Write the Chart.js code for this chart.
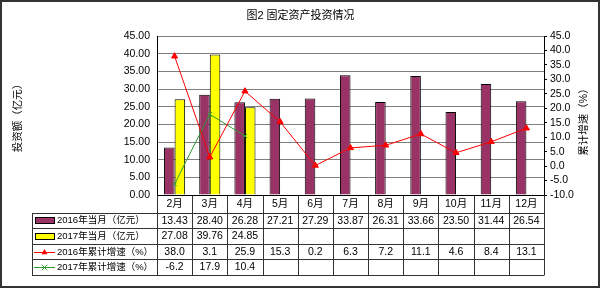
<!DOCTYPE html>
<html>
<head>
<meta charset="utf-8">
<script src="https://cdn.jsdelivr.net/npm/chart.js@4.4.1/dist/chart.umd.min.js"></script>
<style>
	body {margin: 0; background: #fff;}
</style>
</head>
<body>
<canvas id="chart" width="601" height="288"></canvas>
<script>
'use strict';

const months = ['2月', '3月', '4月', '5月', '6月', '7月', '8月', '9月', '10月', '11月', '12月'];
const month2016 = [13.43, 28.40, 26.28, 27.21, 27.29, 33.87, 26.31, 33.66, 23.50, 31.44, 26.54];
const month2017 = [27.08, 39.76, 24.85, null, null, null, null, null, null, null, null];
const growth2016 = [38.0, 3.1, 25.9, 15.3, 0.2, 6.3, 7.2, 11.1, 4.6, 8.4, 13.1];
const growth2017 = [-6.2, 17.9, 10.4, null, null, null, null, null, null, null, null];
const seriesNames = ['2016年当月（亿元）', '2017年当月（亿元）', '2016年累计增速（%）', '2017年累计增速（%）'];

const FONT = "'Liberation Sans', 'Noto Sans CJK SC', sans-serif";
const PURPLE = '#993366', YELLOW = '#ffff00', RED = '#ff0000', GREEN = '#2f9a2f';

/** Draws the small marker used by a line series.
 * @param {CanvasRenderingContext2D} ctx Context.
 * @param {string} style 'triangle' or 'crossRot'.
 * @param {number} x Centre x.
 * @param {number} y Centre y.
 * @param {string} colour Marker colour. */
function drawMarker(ctx, style, x, y, colour) {
	const r = 3.5;
	ctx.save();
	ctx.fillStyle = colour;
	ctx.strokeStyle = colour;
	ctx.lineWidth = 1;
	ctx.beginPath();
	if (style === 'triangle') {
		ctx.moveTo(x, y - r);
		ctx.lineTo(x + r * 0.87, y + r * 0.5);
		ctx.lineTo(x - r * 0.87, y + r * 0.5);
		ctx.closePath();
		ctx.fill();
	}
	else {
		const d = r * 0.8;
		ctx.moveTo(x - d, y - d);
		ctx.lineTo(x + d, y + d);
		ctx.moveTo(x + d, y - d);
		ctx.lineTo(x - d, y + d);
		ctx.stroke();
	}
	ctx.restore();
}

//data table under the plot, columns follow the category scale
const tablePlugin = {
	id: 'dataTable',
	afterDraw: chart => {
		const {ctx, chartArea} = chart;
		const xs = chart.scales.x;
		const n = months.length;
		const colW = (xs.right - xs.left) / n;
		const tableLeft = 32;
		const headBottom = chartArea.bottom + 17.5, rowH = 15.6;
		const rows = [
			{values: month2016, digits: 2, swatch: 'bar', colour: PURPLE},
			{values: month2017, digits: 2, swatch: 'bar', colour: YELLOW},
			{values: growth2016, digits: 1, swatch: 'triangle', colour: RED},
			{values: growth2017, digits: 1, swatch: 'crossRot', colour: GREEN}
		];
		const px = v => Math.round(v) + 0.5;
		const tableBottom = headBottom + rows.length * rowH;
		
		ctx.save();
		ctx.strokeStyle = '#333';
		ctx.lineWidth = 1;
		ctx.beginPath();
		//horizontal rules
		for (let r = 0; r <= rows.length; ++r) {
			const y = px(headBottom + r * rowH);
			ctx.moveTo(tableLeft, y);
			ctx.lineTo(xs.right, y);
		}
		//vertical rules
		ctx.moveTo(px(tableLeft), px(headBottom));
		ctx.lineTo(px(tableLeft), px(tableBottom));
		for (let c = 0; c <= n; ++c) {
			const x = px(xs.left + c * colW);
			ctx.moveTo(x, px(chartArea.bottom));
			ctx.lineTo(x, px(tableBottom));
		}
		ctx.stroke();
		
		ctx.textBaseline = 'middle';
		rows.forEach((row, r) => {
			const cy = headBottom + r * rowH + rowH / 2;
			
			//legend key
			if (row.swatch === 'bar') {
				ctx.fillStyle = row.colour;
				ctx.fillRect(35, Math.round(cy - 3), 19, 6);
				ctx.strokeStyle = '#000';
				ctx.strokeRect(35.5, Math.round(cy - 3) + 0.5, 19, 6);
			}
			else {
				ctx.strokeStyle = row.colour;
				ctx.beginPath();
				ctx.moveTo(34, px(cy));
				ctx.lineTo(55, px(cy));
				ctx.stroke();
				drawMarker(ctx, row.swatch, 44.5, px(cy), row.colour);
			}
			ctx.fillStyle = '#000';
			ctx.textAlign = 'left';
			ctx.font = '9.5px ' + FONT;
			ctx.fillText(seriesNames[r], 57, cy + 0.5);
			
			//cell values
			ctx.font = '10.5px ' + FONT;
			ctx.textAlign = 'center';
			row.values.forEach((v, i) => {
				if (v === null) {
					return;
				}
				ctx.fillText(v.toFixed(row.digits), xs.getPixelForValue(i), cy + 0.5);
			});
		});
		
		//right axis title reads bottom to top like the left one
		ctx.save();
		ctx.font = '10.5px ' + FONT;
		ctx.translate(584, (chartArea.top + chartArea.bottom) / 2 + 4);
		ctx.rotate(-Math.PI / 2);
		ctx.textAlign = 'center';
		ctx.fillText('累计增速（%）', 0, 0);
		ctx.restore();
		
		//outer frame
		ctx.strokeStyle = '#333';
		ctx.lineWidth = 2;
		ctx.strokeRect(1, 1, chart.width - 3, chart.height - 2);
		ctx.restore();
	}
};

const tickFont = {family: FONT, size: 10.5};

new Chart(document.getElementById('chart'), {
	data: {
		labels: months,
		datasets: [
			{
				type: 'line',
				label: seriesNames[2],
				data: growth2016,
				yAxisID: 'y1',
				order: 0,
				borderColor: RED,
				borderWidth: 1,
				pointStyle: 'triangle',
				pointRadius: 3.5,
				pointBackgroundColor: RED,
				pointBorderColor: RED
			},
			{
				type: 'line',
				label: seriesNames[3],
				data: growth2017,
				yAxisID: 'y1',
				order: 0,
				borderColor: GREEN,
				borderWidth: 1,
				pointStyle: 'crossRot',
				pointRadius: 3,
				pointBorderColor: GREEN
			},
			{
				type: 'bar',
				label: seriesNames[0],
				data: month2016,
				yAxisID: 'y',
				order: 1,
				backgroundColor: PURPLE,
				borderColor: '#000',
				borderWidth: 1,
				barPercentage: 1,
				categoryPercentage: 0.6
			},
			{
				type: 'bar',
				label: seriesNames[1],
				data: month2017,
				yAxisID: 'y',
				order: 1,
				backgroundColor: YELLOW,
				borderColor: '#000',
				borderWidth: 1,
				barPercentage: 1,
				categoryPercentage: 0.6
			}
		]
	},
	options: {
		responsive: false,
		animation: false,
		layout: {padding: 0},
		plugins: {
			legend: {display: false},
			tooltip: {enabled: false},
			title: {
				display: true,
				text: '图2 固定资产投资情况',
				color: '#000',
				font: {family: FONT, size: 11, weight: 'normal'},
				padding: {top: 9, bottom: 13.8}
			}
		},
		scales: {
			x: {
				grid: {display: false, drawTicks: false},
				border: {display: true, color: '#000'},
				ticks: {color: '#000', font: tickFont, padding: 3, maxRotation: 0, autoSkip: false},
				afterFit: scale => { scale.height = 93; }
			},
			y: {
				position: 'left',
				min: 0,
				max: 45,
				grid: {color: '#808080', drawTicks: false},
				border: {display: true, color: '#000'},
				ticks: {
					stepSize: 5,
					maxTicksLimit: 20,
					autoSkip: false,
					color: '#000',
					font: tickFont,
					padding: 7,
					callback: v => v.toFixed(2)
				},
				title: {
					display: true,
					text: '投资额（亿元）',
					color: '#000',
					font: {family: FONT, size: 10.5},
					padding: {top: 12, bottom: 0}
				},
				afterFit: scale => { scale.width = 157; }
			},
			y1: {
				position: 'right',
				min: -10,
				max: 45,
				grid: {drawOnChartArea: false, tickLength: 3, color: '#000'},
				border: {display: true, color: '#000'},
				ticks: {
					stepSize: 5,
					maxTicksLimit: 20,
					autoSkip: false,
					color: '#000',
					font: tickFont,
					padding: 3,
					callback: v => v.toFixed(1)
				},
				afterFit: scale => { scale.width = 57; }
			}
		}
	},
	plugins: [tablePlugin]
});
</script>
</body>
</html>
